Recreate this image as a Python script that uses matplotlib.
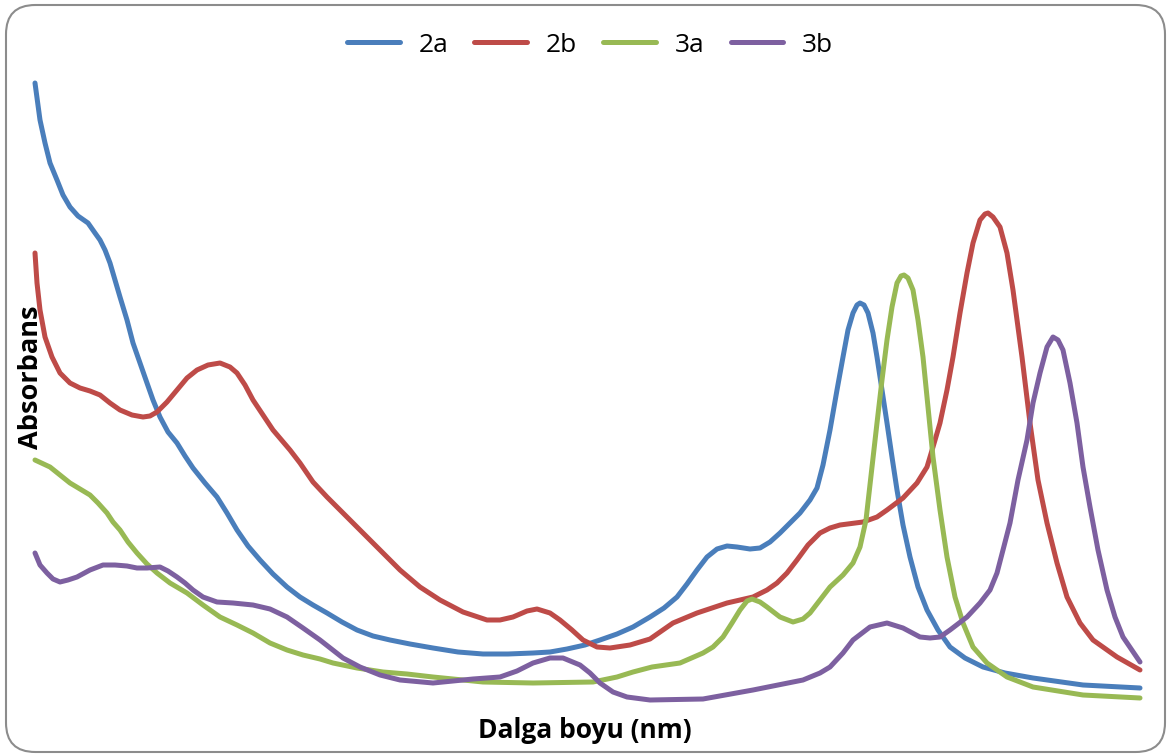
import matplotlib
matplotlib.use("Agg")
import matplotlib.pyplot as plt
from matplotlib.patches import FancyBboxPatch

# (x: wavelength, nm; y: absorbance, arbitrary units)
nm_2a = [250, 252.5, 255, 257.5, 261, 264, 267.5, 271.5, 276.5, 280, 282.5, 285, 287.5, 290,
         292.5, 296, 299, 302.5, 306, 309, 312.5, 316.5, 321, 325, 329, 335, 341, 346, 351,
         356.5, 362.5, 369, 376, 382.5, 389, 396, 403.5, 411, 419, 427.5, 437.5, 449, 461.5,
         474, 486.5, 499, 507.5, 516, 525, 532.5, 541, 549, 557.5, 564.5, 571, 576, 581, 586,
         591, 596, 601, 607.5, 612.5, 617.5, 622.5, 627.5, 632.5, 637.5, 641, 644, 647.5, 651,
         654, 656.5, 659, 661, 662.5, 664.5, 666.5, 669, 671, 673.5, 676, 678.5, 681, 684,
         687.5, 691.5, 696, 701.5, 707.5, 715, 724, 735, 749, 774, 802.5]
abs_2a = [1.314, 1.24, 1.194, 1.154, 1.12, 1.09, 1.066, 1.048, 1.034, 1.014, 1.0, 0.98, 0.954,
          0.92, 0.886, 0.84, 0.794, 0.754, 0.714, 0.68, 0.646, 0.616, 0.594, 0.568, 0.544, 0.514,
          0.486, 0.454, 0.42, 0.388, 0.36, 0.332, 0.306, 0.286, 0.27, 0.254, 0.236, 0.22, 0.208,
          0.2, 0.192, 0.184, 0.176, 0.172, 0.172, 0.174, 0.176, 0.182, 0.19, 0.2, 0.212, 0.226,
          0.246, 0.264, 0.286, 0.312, 0.34, 0.366, 0.382, 0.388, 0.386, 0.382, 0.384, 0.396,
          0.414, 0.434, 0.454, 0.48, 0.504, 0.55, 0.62, 0.7, 0.766, 0.82, 0.854, 0.87, 0.874,
          0.87, 0.854, 0.814, 0.766, 0.7, 0.634, 0.566, 0.5, 0.43, 0.366, 0.306, 0.26, 0.22,
          0.186, 0.164, 0.146, 0.134, 0.124, 0.11, 0.104]

nm_2b = [250, 251, 252.5, 255, 258.5, 262.5, 267.5, 272.5, 277.5, 282.5, 287.5, 292.5, 298.5,
         304, 307.5, 311, 316, 321, 326, 331, 336.5, 342.5, 347.5, 351, 355, 359, 364, 369,
         377.5, 382.5, 389, 396, 406, 416, 424, 432.5, 442.5, 452.5, 464, 476, 482.5, 489, 496,
         501, 507.5, 512.5, 518.5, 524, 531, 537.5, 547.5, 557.5, 569, 581, 596, 609, 616, 621,
         626, 631, 636.5, 642.5, 647.5, 652.5, 664, 671, 676, 684, 691, 696, 699, 702.5, 706,
         709, 712.5, 716, 719, 722.5, 725, 726.5, 729, 732.5, 736, 739, 743.5, 747.5, 751.5,
         756, 761, 766, 772.5, 779, 791, 802.5]
abs_2b = [0.974, 0.914, 0.86, 0.806, 0.766, 0.734, 0.714, 0.704, 0.698, 0.69, 0.674, 0.66, 0.65,
          0.646, 0.648, 0.656, 0.676, 0.7, 0.724, 0.74, 0.75, 0.754, 0.746, 0.734, 0.71, 0.68,
          0.65, 0.62, 0.58, 0.554, 0.516, 0.486, 0.446, 0.406, 0.374, 0.34, 0.306, 0.28, 0.256,
          0.24, 0.24, 0.246, 0.258, 0.262, 0.254, 0.24, 0.22, 0.2, 0.186, 0.184, 0.19, 0.202,
          0.234, 0.254, 0.274, 0.286, 0.3, 0.314, 0.334, 0.36, 0.39, 0.414, 0.424, 0.43, 0.436,
          0.446, 0.46, 0.484, 0.514, 0.546, 0.586, 0.634, 0.7, 0.766, 0.854, 0.934, 0.994, 1.04,
          1.052, 1.054, 1.046, 1.026, 0.974, 0.9, 0.766, 0.634, 0.52, 0.434, 0.354, 0.286, 0.234,
          0.2, 0.166, 0.14]

nm_3a = [250, 257.5, 262.5, 267.5, 272.5, 277.5, 281.5, 286, 289, 292.5, 296.5, 301, 306, 311,
         317.5, 326, 334, 342.5, 351, 359, 367.5, 376, 384, 392.5, 399, 411, 424, 436, 449, 474,
         499, 529, 541, 549, 558.5, 572.5, 584, 589, 594, 598.5, 602.5, 606, 608.5, 612.5, 616,
         622.5, 629, 634, 637.5, 642.5, 647.5, 654, 659, 662.5, 665.5, 668.5, 671, 673.5, 676,
         678.5, 681, 683, 684.5, 686.5, 689, 691.5, 694, 696.5, 699, 702.5, 706, 710, 714, 719,
         726, 736, 749, 774, 802.5]
abs_3a = [0.56, 0.546, 0.53, 0.514, 0.502, 0.49, 0.474, 0.454, 0.436, 0.42, 0.396, 0.374, 0.352,
          0.334, 0.314, 0.294, 0.27, 0.246, 0.23, 0.214, 0.194, 0.18, 0.17, 0.162, 0.154, 0.144,
          0.136, 0.132, 0.126, 0.116, 0.114, 0.116, 0.126, 0.136, 0.146, 0.154, 0.174, 0.186,
          0.206, 0.234, 0.26, 0.278, 0.282, 0.276, 0.266, 0.246, 0.236, 0.242, 0.254, 0.28,
          0.306, 0.33, 0.354, 0.386, 0.44, 0.546, 0.634, 0.72, 0.8, 0.866, 0.914, 0.928, 0.93,
          0.924, 0.9, 0.84, 0.766, 0.666, 0.566, 0.46, 0.366, 0.286, 0.234, 0.186, 0.154, 0.126,
          0.106, 0.09, 0.084]

nm_3b = [250, 252.5, 256, 259, 262.5, 266.5, 271, 277.5, 284, 290, 296, 301, 306, 312.5, 316.5,
         321, 325, 329, 334, 341, 349, 359, 367.5, 376, 384, 392.5, 404, 412.5, 422.5, 432.5,
         449, 469, 482.5, 491, 499, 507.5, 514, 522.5, 527.5, 532.5, 539, 546, 557.5, 584, 609,
         634, 642.5, 647.5, 654, 659, 667.5, 676, 684, 692.5, 697.5, 702.5, 707.5, 716, 722.5,
         727.5, 731, 734, 737.5, 741.5, 746, 749, 752.5, 756, 759, 761.5, 764, 767.5, 771, 774,
         777.5, 781.5, 786, 790, 794, 802.5]
abs_3b = [0.374, 0.35, 0.334, 0.322, 0.316, 0.32, 0.326, 0.34, 0.35, 0.35, 0.348, 0.344, 0.344,
          0.346, 0.338, 0.326, 0.314, 0.3, 0.286, 0.276, 0.274, 0.27, 0.262, 0.246, 0.224, 0.2,
          0.164, 0.146, 0.13, 0.12, 0.114, 0.122, 0.126, 0.138, 0.154, 0.164, 0.164, 0.15, 0.134,
          0.114, 0.096, 0.086, 0.08, 0.082, 0.1, 0.12, 0.134, 0.146, 0.174, 0.2, 0.226, 0.234,
          0.224, 0.206, 0.204, 0.206, 0.22, 0.246, 0.274, 0.3, 0.334, 0.38, 0.434, 0.52, 0.6,
          0.674, 0.734, 0.786, 0.806, 0.8, 0.78, 0.714, 0.634, 0.546, 0.466, 0.38, 0.3, 0.246,
          0.206, 0.156]

series = [("2a", nm_2a, abs_2a, "#4A7EBB"),
          ("2b", nm_2b, abs_2b, "#BE4B48"),
          ("3a", nm_3a, abs_3a, "#98B954"),
          ("3b", nm_3b, abs_3b, "#7D60A0")]

plt.rcParams["font.family"] = ["Open Sans", "DejaVu Sans"]

fig = plt.figure(figsize=(11.71, 7.55), dpi=100)
ax = fig.add_axes([35 / 1171, 1 - 705 / 755, 1105 / 1171, 625 / 755])

for name, x, y, c in series:
    ax.plot(x, y, color=c, lw=3.6, label=name, solid_capstyle="round",
            solid_joinstyle="round", clip_on=False)

ax.set_xlim(250, 802.5)
ax.set_ylim(0.07, 1.32)
ax.set_xticks([]); ax.set_yticks([])
for s in ax.spines.values():
    s.set_visible(False)

fig.text(478 / 1171, 1 - 730 / 755, "Dalga boyu (nm)", fontsize=19, fontweight="bold",
         ha="left", va="center")
fig.text(31 / 1171, 1 - 377 / 755, "Absorbans", fontsize=19.5, fontweight="bold",
         rotation=90, ha="center", va="center")

fig.legend(loc="center", bbox_to_anchor=(590 / 1171, 1 - 45 / 755), ncol=4, frameon=False,
           fontsize=19, handlelength=2.0, handletextpad=0.7, columnspacing=1.0)

border = FancyBboxPatch((6 / 1171, 3 / 755), 1159 / 1171, 747 / 755,
                        boxstyle="round,pad=0,rounding_size=0.025", transform=fig.transFigure,
                        fill=False, edgecolor="#8c8c8c", lw=1.5, mutation_aspect=1171 / 755)
fig.patches.append(border)

fig.savefig("out.png", dpi=100)
